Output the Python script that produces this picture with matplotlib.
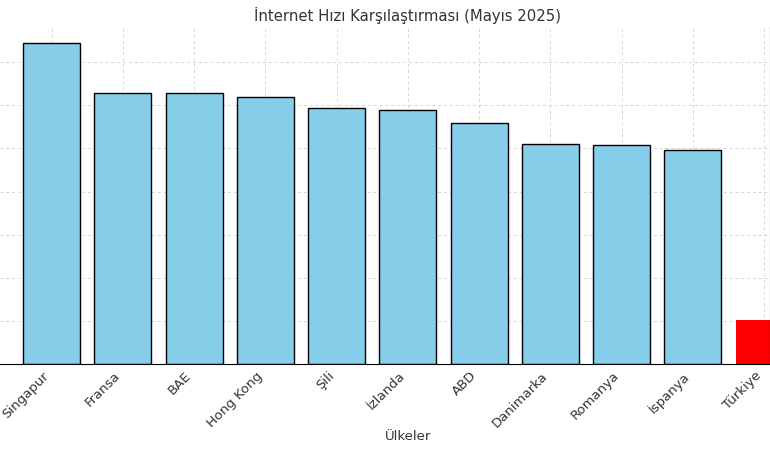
import matplotlib.pyplot as plt

# Ülkeler ve internet hızları (Mbps, tahmini okunan değerler)
ulkeler = ['Singapur', 'Fransa', 'BAE', 'Hong Kong', 'Şili', 'İzlanda',
           'ABD', 'Danimarka', 'Romanya', 'İspanya', 'Türkiye']
hizlar = [372, 314.7, 313.9, 309.6, 296.9, 295, 279.5, 255.2, 254.1, 247.6, 51.3]

renkler = ['skyblue'] * (len(ulkeler) - 1) + ['red']
kenarlar = ['black'] * (len(ulkeler) - 1) + ['none']

fig = plt.figure(figsize=(7.7, 4.5), dpi=100)
ax = fig.add_axes([0.0, 0.1904, 1.0, 0.7496])

x = list(range(len(ulkeler)))
ax.bar(x, hizlar, color=renkler, edgecolor=kenarlar, width=0.8, zorder=2)

ax.set_xlim(-0.723, 10.084)
ax.set_ylim(0, max(hizlar) * 1.05)
ax.set_xticks(x)
ax.set_xticklabels(ulkeler, rotation=45, ha='right',
                   color='#333333', fontsize=9.5)
ax.tick_params(axis='x', direction='in', length=3)
ax.tick_params(axis='y', left=False, labelleft=False)
ax.set_xlabel('Ülkeler', color='#333333', fontsize=9.5)
ax.xaxis.set_label_coords(408 / 770, -0.196)
ax.set_title('İnternet Hızı Karşılaştırması (Mayıs 2025)', color='#333333',
             fontsize=10.7, x=408 / 770, pad=4)

ax.grid(True, linestyle=(0, (3, 3)), color='#d5d5d5', linewidth=0.7, zorder=0)
ax.spines['top'].set_visible(False)
ax.spines['left'].set_visible(False)

fig.savefig('out.png', dpi=100)
